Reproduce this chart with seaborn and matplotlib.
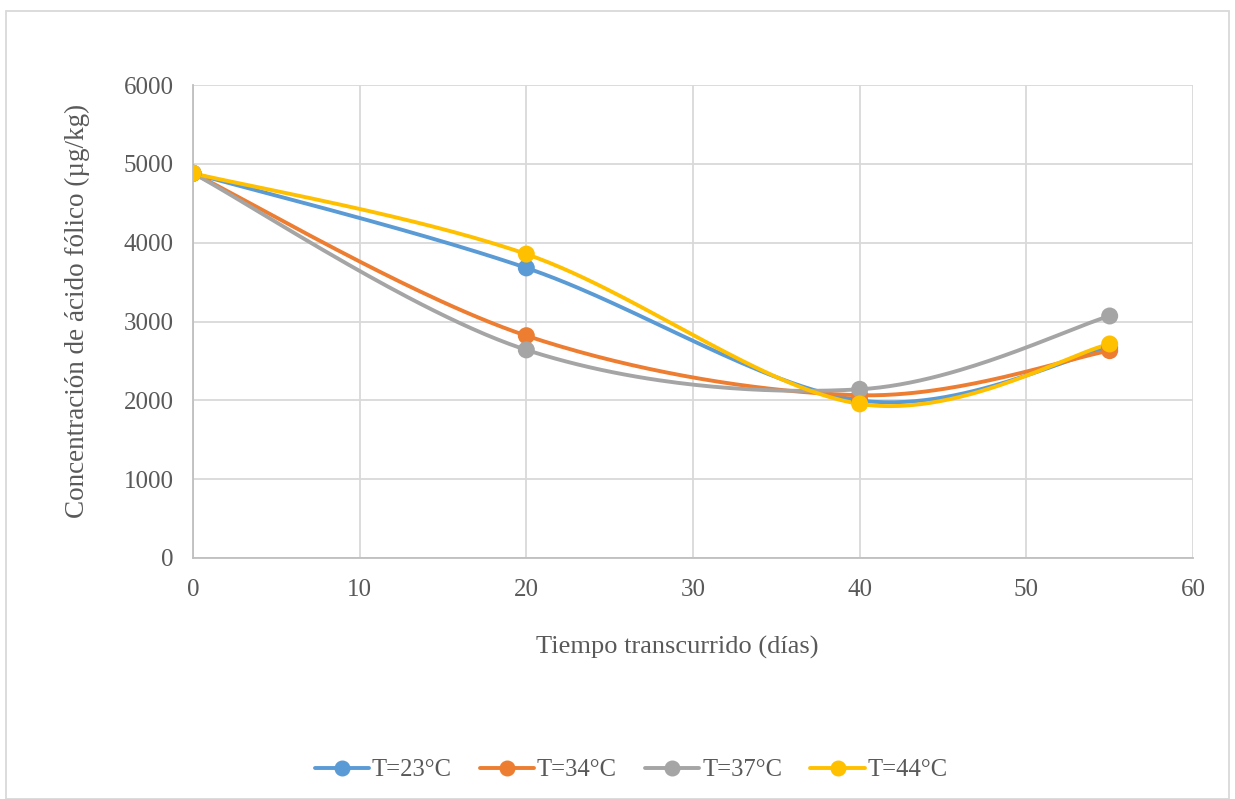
import numpy as np
import pandas as pd
import matplotlib
matplotlib.use("Agg")
import matplotlib.pyplot as plt
from matplotlib.lines import Line2D
from matplotlib.patches import Rectangle
import seaborn as sns

# Storage time (days) and folic acid concentration (µg/kg) per temperature
dias = [0, 20, 40, 55]
t23 = [4880, 3680, 2000, 2670]
t34 = [4880, 2820, 2065, 2630]
t37 = [4880, 2640, 2140, 3070]
t44 = [4880, 3855, 1955, 2715]
series_names = ["T=23°C", "T=34°C", "T=37°C", "T=44°C"]
series_colors = ["#5B9BD5", "#ED7D31", "#A5A5A5", "#FFC000"]
x_ticks = [0, 10, 20, 30, 40, 50, 60]
y_ticks = [0, 1000, 2000, 3000, 4000, 5000, 6000]


def smooth(xs, ys, n=60):
    """Cubic Bezier smoothing through every point (Catmull-Rom style)."""
    p = np.column_stack([xs, ys]).astype(float)
    ext = np.vstack([p[0], p, p[-1]])
    out = []
    t = np.linspace(0, 1, n)[:, None]
    for i in range(len(p) - 1):
        p0, p1, p2, p3 = ext[i], ext[i + 1], ext[i + 2], ext[i + 3]
        c1 = p1 + (p2 - p0) / 6.0
        c2 = p2 - (p3 - p1) / 6.0
        seg = ((1 - t) ** 3) * p1 + 3 * ((1 - t) ** 2) * t * c1 + 3 * (1 - t) * t ** 2 * c2 + t ** 3 * p2
        out.append(seg if i == 0 else seg[1:])
    out = np.vstack(out)
    return out[:, 0], out[:, 1]


sns.set_theme(style="white")
plt.rcParams["font.family"] = ["Liberation Serif", "DejaVu Serif"]

rows = []
curve_rows = []
for name, vals in zip(series_names, [t23, t34, t37, t44]):
    for d, v in zip(dias, vals):
        rows.append({"dias": d, "conc": v, "serie": name})
    sx, sy = smooth(dias, vals)
    for a, b in zip(sx, sy):
        curve_rows.append({"dias": a, "conc": b, "serie": name})
df = pd.DataFrame(rows)
curves = pd.DataFrame(curve_rows)
palette = dict(zip(series_names, series_colors))

fig = plt.figure(figsize=(12.35, 7.99), dpi=100)
ax = fig.add_axes([193 / 1235, 1 - 558 / 799, 1000 / 1235, 473 / 799])

sns.lineplot(data=curves, x="dias", y="conc", hue="serie", palette=palette,
             sort=False, estimator=None, linewidth=2.8, ax=ax, legend=False)
sns.scatterplot(data=df, x="dias", y="conc", hue="serie", palette=palette,
                s=150, edgecolor="none", ax=ax, legend=False, zorder=5)

ax.set_xlim(0, 60)
ax.set_ylim(0, 6000)
ax.set_xticks(x_ticks)
ax.set_yticks(y_ticks)
ax.grid(True, color="#D9D9D9", linewidth=1.3)
ax.set_axisbelow(True)
for side in ["top", "right"]:
    ax.spines[side].set_visible(False)
for side in ["left", "bottom"]:
    ax.spines[side].set_color("#BFBFBF")
    ax.spines[side].set_linewidth(1.3)
ax.tick_params(axis="both", length=0, labelsize=18, colors="#595959")
ax.tick_params(axis="x", pad=15)
ax.tick_params(axis="y", pad=14)
ax.set_xlabel("Tiempo transcurrido (días)", fontsize=19, color="#595959")
ax.set_ylabel("Concentración de ácido fólico (µg/kg)", fontsize=19.5, color="#595959")
ax.xaxis.set_label_coords(0.484, -0.164)
ax.yaxis.set_label_coords(-0.103, 0.522)

handles = [Line2D([0], [0], color=c, lw=2.8, marker="o", markersize=10.5) for c in series_colors]
fig.legend(handles, series_names, loc="center", bbox_to_anchor=(0.511, 1 - 770 / 799),
           ncol=4, frameon=False, fontsize=17.7, labelcolor="#595959",
           handlelength=2.2, handletextpad=0.12, columnspacing=1.15)

fig.patches.append(Rectangle((6 / 1235, 0), 1223 / 1235, 1 - 11 / 799, transform=fig.transFigure,
                             fill=False, edgecolor="#D9D9D9", linewidth=1.3))

fig.savefig("out.png", dpi=100, facecolor="white")
